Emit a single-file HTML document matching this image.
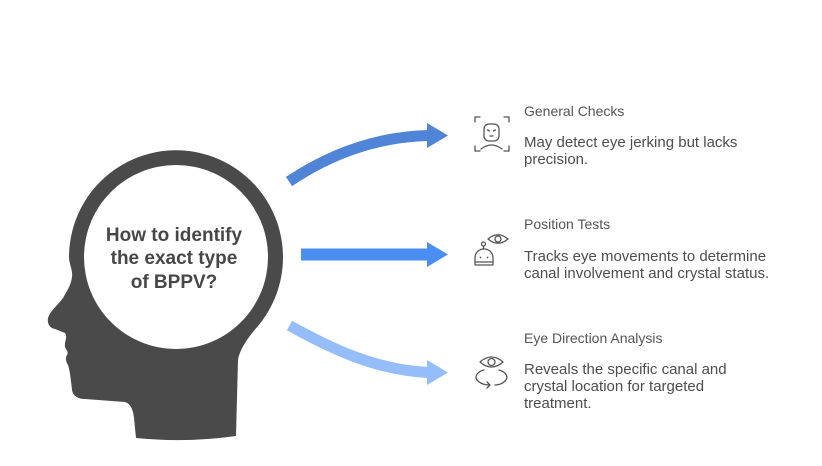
<!DOCTYPE html>
<html>
<head>
<meta charset="utf-8">
<style>
  html,body{margin:0;padding:0;background:#ffffff;}
  body{width:822px;height:466px;overflow:hidden;}
  svg{display:block;}
  .t{font-family:"Liberation Sans",Arial,sans-serif;}
</style>
</head>
<body>
<svg width="822" height="466" viewBox="0 0 822 466" xmlns="http://www.w3.org/2000/svg">
  <rect width="822" height="466" fill="#ffffff"/>

  <!-- Head silhouette -->
  <path fill="#4a4a4a" d="
    M 258,326
    A 107,107 0 1 0 69,257
    C 69,264 73,270 72,277
    C 71,285 67,291 63,298
    C 58,305 50,311 48,318
    C 47,324 50,328 55,329
    L 65,333
    C 68,337 64,342 65,347
    C 66,350 69,352 67,355
    C 65,358 66,362 68,365
    C 70,371 71,381 72,390
    C 73,396 78,399 85,399
    L 125,402
    C 131,404 133,410 134,418
    L 136,438
    Q 186,443 236,436
    L 238,360
    C 240,348 250,335 258,326 Z"/>
  <circle cx="176" cy="257" r="92" fill="#ffffff"/>

  <g class="t" font-size="19" font-weight="bold" fill="#474747" text-anchor="middle">
    <text x="174" y="241">How to identify</text>
    <text x="174" y="264">the exact type</text>
    <text x="174" y="288">of BPPV?</text>
  </g>

  <!-- Top arrow -->
  <path d="M289,181.5 C330,154 375,137 428,135.5" stroke="#4f84d6" stroke-width="11" fill="none"/>
  <polygon points="427,123 448,135.5 427,148" fill="#4f84d6"/>

  <!-- Middle arrow -->
  <rect x="301" y="248.5" width="127" height="12" fill="#4b8ef2"/>
  <polygon points="427,242 448,254.5 427,267" fill="#4b8ef2"/>

  <!-- Bottom arrow -->
  <path d="M289.5,325.5 C330,348 375,370 428,372.5" stroke="#94bdf9" stroke-width="11" fill="none"/>
  <polygon points="427,360 448,372.5 427,385" fill="#94bdf9"/>

  <!-- Icon 1: face in frame -->
  <g stroke="#555" stroke-width="1.3" fill="none" stroke-linecap="round" stroke-linejoin="round">
    <path d="M475,122 V117 H480"/>
    <path d="M504,117 H509 V122"/>
    <path d="M475,146 V151 H480"/>
    <path d="M504,151 H509 V146"/>
    <rect x="484" y="124" width="15" height="17" rx="5"/>
    <path d="M487.5,130 L489.5,131"/>
    <path d="M495.5,130 L493.5,131"/>
    <path d="M490,136 H493"/>
    <path d="M481,149 Q491.5,141 502,149"/>
  </g>

  <!-- Icon 2: eye + robot -->
  <g stroke="#555" stroke-width="1.3" fill="none" stroke-linecap="round" stroke-linejoin="round">
    <path d="M488,239 Q498,230.5 508,239 Q498,247.5 488,239 Z"/>
    <circle cx="498" cy="239" r="3"/>
    <circle cx="483.5" cy="244" r="2"/>
    <path d="M483.5,246 V249"/>
    <path d="M475,265 V258 C475,252.5 479,249 484,249 C489,249 493,252.5 493,258 V265 Z"/>
    <path d="M475,262 H493"/>
  </g>
  <circle cx="480.5" cy="257.5" r="0.9" fill="#555"/>
  <circle cx="487.5" cy="257.5" r="0.9" fill="#555"/>

  <!-- Icon 3: eye with rotation -->
  <g stroke="#555" stroke-width="1.3" fill="none" stroke-linecap="round" stroke-linejoin="round">
    <path d="M480,362 Q491.5,352 503,362 Q491.5,372 480,362 Z"/>
    <circle cx="491.5" cy="362" r="3.5"/>
    <path d="M484,370 C476,372 474,378 478,381 C481,384 486,385 490,385"/>
    <path d="M487,382 L490,385 L487,388"/>
    <path d="M499,370 C506,372 509,377 505,381 C502,384 498,385 495,385"/>
  </g>

  <!-- Right-side texts -->
  <g class="t">
    <text x="524" y="116" font-size="14" fill="#555555">General Checks</text>
    <text x="524" y="147" font-size="15" fill="#4d4d4d">May detect eye jerking but lacks</text>
    <text x="524" y="164" font-size="15" fill="#4d4d4d">precision.</text>

    <text x="524" y="229" font-size="14" fill="#555555">Position Tests</text>
    <text x="524" y="261" font-size="15" fill="#4d4d4d">Tracks eye movements to determine</text>
    <text x="524" y="278" font-size="15" fill="#4d4d4d">canal involvement and crystal status.</text>

    <text x="524" y="343" font-size="14" fill="#555555">Eye Direction Analysis</text>
    <text x="524" y="374" font-size="15" fill="#4d4d4d">Reveals the specific canal and</text>
    <text x="524" y="391" font-size="15" fill="#4d4d4d">crystal location for targeted</text>
    <text x="524" y="408" font-size="15" fill="#4d4d4d">treatment.</text>
  </g>
</svg>
</body>
</html>
